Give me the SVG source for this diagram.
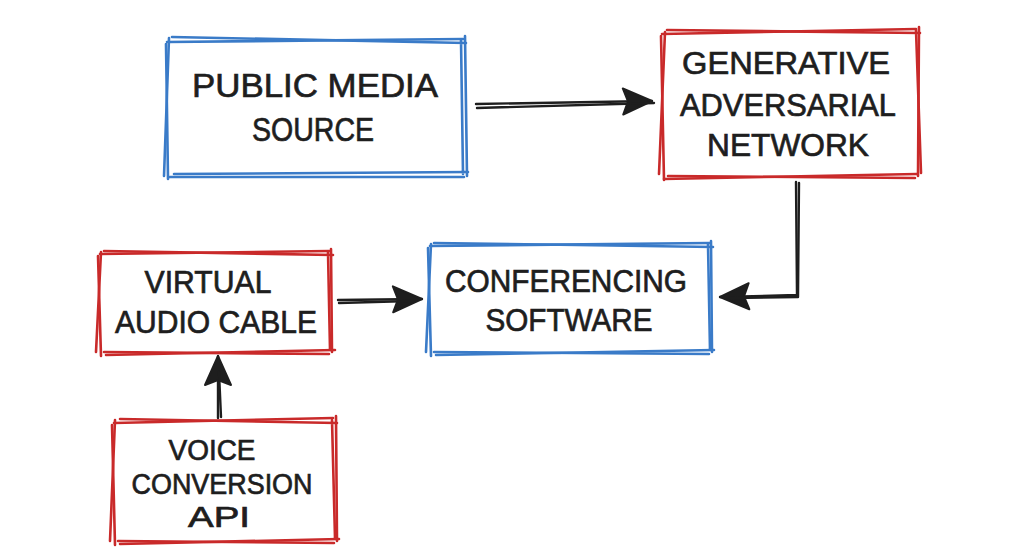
<svg xmlns="http://www.w3.org/2000/svg" width="1024" height="559" viewBox="0 0 1024 559">
<style>
.blue{fill:none;stroke:#3a7bc8;stroke-width:2.6;stroke-linecap:round;stroke-linejoin:round}
.red{fill:none;stroke:#c92a2a;stroke-width:2.6;stroke-linecap:round;stroke-linejoin:round}
.ln{fill:none;stroke:#1e1e1e;stroke-width:2.4;stroke-linecap:round;stroke-linejoin:round}
text{font-family:"Liberation Sans",Arial,sans-serif;font-size:32px;fill:#1e1e1e;stroke:#1e1e1e;stroke-width:0.7;text-anchor:middle}
.big{font-size:34px}
.sm{font-size:29px}
</style>
<defs>
<marker id="ah" markerUnits="userSpaceOnUse" markerWidth="40" markerHeight="40" viewBox="0 0 40 40" refX="34" refY="20" orient="auto">
<path d="M34,20 L5,7 L10,20 L5,33 Z" fill="#1e1e1e" stroke="#1e1e1e" stroke-width="2" stroke-linejoin="round"/>
</marker>
</defs>
<rect width="1024" height="559" fill="#ffffff"/>
<g id="connectors">
<path class="ln" d="M476,104 L652,101" marker-end="url(#ah)"/>
<path class="ln" d="M477,108 L654,103"/>
<path class="ln" d="M796,182 L797,295 L720,297" marker-end="url(#ah)"/>
<path class="ln" d="M799,183 L798,297 L730,298"/>
<path class="ln" d="M338,300 L422,299" marker-end="url(#ah)"/>
<path class="ln" d="M339,303 L410,301"/>
<path class="ln" d="M218,418 L218,356" marker-end="url(#ah)"/>
<path class="ln" d="M221,417 L219,372"/>
</g>
<g id="public-media-source">
<path class="blue" d="M167,42 L463,39 M465,36 L467,176 M464,177 L170,177 M168,179 L166,44"/>
<path class="blue" d="M172,37 L466,43 M461,40 L463,174 M468,172 L174,174 M164,176 L169,38"/>
<text class="big" x="315" y="97" textLength="246" lengthAdjust="spacingAndGlyphs">PUBLIC MEDIA</text>
<text class="big" x="313" y="141" textLength="122" lengthAdjust="spacingAndGlyphs">SOURCE</text>
</g>
<g id="gan">
<path class="red" d="M662,34 L916,29 M919,27 L918,176 M915,178 L668,176 M664,180 L661,36"/>
<path class="red" d="M667,30 L920,33 M916,30 L921,173 M917,174 L664,179 M659,174 L665,32"/>
<text x="786" y="74" textLength="208" lengthAdjust="spacingAndGlyphs">GENERATIVE</text>
<text x="788" y="116" textLength="216" lengthAdjust="spacingAndGlyphs">ADVERSARIAL</text>
<text x="788" y="156" textLength="162" lengthAdjust="spacingAndGlyphs">NETWORK</text>
</g>
<g id="virtual-audio-cable">
<path class="red" d="M100,254 L329,251 M331,249 L332,352 M329,354 L104,352 M101,356 L98,256"/>
<path class="red" d="M104,251 L333,255 M328,252 L330,349 M335,350 L106,355 M96,352 L101,252"/>
<text x="208" y="293" textLength="127" lengthAdjust="spacingAndGlyphs">VIRTUAL</text>
<text x="216" y="333" textLength="202" lengthAdjust="spacingAndGlyphs">AUDIO CABLE</text>
</g>
<g id="conferencing-software">
<path class="blue" d="M430,246 L709,243 M711,241 L712,352 M709,354 L434,352 M431,356 L428,248"/>
<path class="blue" d="M434,243 L713,247 M708,244 L710,350 M714,350 L436,355 M426,352 L431,244"/>
<text x="566" y="292" textLength="242" lengthAdjust="spacingAndGlyphs">CONFERENCING</text>
<text x="569" y="331" textLength="167" lengthAdjust="spacingAndGlyphs">SOFTWARE</text>
</g>
<g id="voice-conversion-api">
<path class="red" d="M114,423 L333,418 M336,416 L337,541 M334,543 L118,541 M115,545 L112,425"/>
<path class="red" d="M120,419 L337,423 M332,420 L335,538 M339,539 L120,544 M110,541 L115,420"/>
<text class="sm" x="212" y="460" textLength="87" lengthAdjust="spacingAndGlyphs">VOICE</text>
<text class="sm" x="222" y="494" textLength="181" lengthAdjust="spacingAndGlyphs">CONVERSION</text>
<text class="sm" x="219" y="527" textLength="62" lengthAdjust="spacingAndGlyphs">API</text>
</g>
</svg>
